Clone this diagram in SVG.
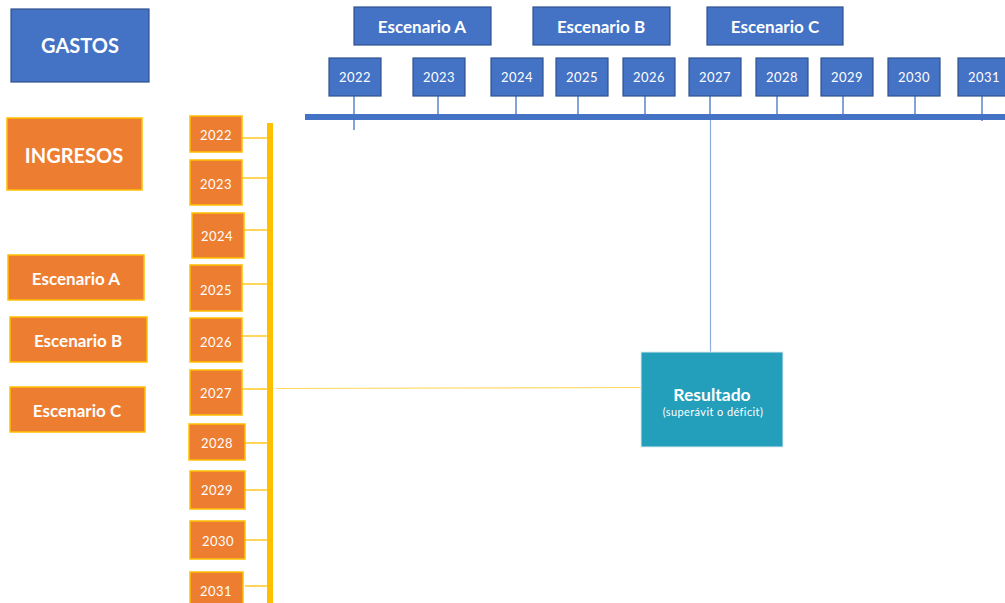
<svg xmlns="http://www.w3.org/2000/svg" width="1005" height="603" viewBox="0 0 1005 603">
<style>
.blue{fill:#4472C4;stroke:#2F528F;stroke-width:1.2}
.org{fill:#ED7D31;stroke:#FFC000;stroke-width:1.5}
.res{fill:#239EBB;stroke:#DDEBF0;stroke-width:1}
text{font-family:Lato,"Liberation Sans",sans-serif;fill:#fff;text-anchor:middle;dominant-baseline:central}
.big{font-size:20px;font-weight:bold}
.mid{font-size:17px;font-weight:bold}
.yr{font-size:13px;letter-spacing:0.5px}
.bt{stroke:#4472C4;stroke-width:1.3}
.yt{stroke:#FFC000;stroke-width:1.3}
</style>
<rect width="1005" height="603" fill="#fff"/>
<g id="connectors">
<rect x="305" y="114" width="700" height="6" fill="#4472C4"/>
<rect x="267" y="123" width="6" height="480" fill="#FFC000"/>
<line class="bt" x1="354" y1="96" x2="354" y2="130"/>
<line class="bt" x1="438" y1="96" x2="438" y2="114"/>
<line class="bt" x1="516" y1="96" x2="516" y2="114"/>
<line class="bt" x1="578" y1="96" x2="578" y2="114"/>
<line class="bt" x1="645" y1="96" x2="645" y2="114"/>
<line class="bt" x1="710" y1="96" x2="710" y2="114"/>
<line x1="710.5" y1="120" x2="710.5" y2="352" stroke="#8FAADC" stroke-width="1.2"/>
<line class="bt" x1="777" y1="96" x2="777" y2="114"/>
<line class="bt" x1="843" y1="96" x2="843" y2="114"/>
<line class="bt" x1="915" y1="96" x2="915" y2="114"/>
<line class="bt" x1="982" y1="96" x2="982" y2="121"/>
<line class="yt" x1="240" y1="138" x2="267" y2="138"/>
<line class="yt" x1="242" y1="178" x2="267" y2="178"/>
<line class="yt" x1="244" y1="230" x2="267" y2="230"/>
<line class="yt" x1="242" y1="284" x2="267" y2="284"/>
<line class="yt" x1="242" y1="336" x2="267" y2="336"/>
<line class="yt" x1="242" y1="389" x2="267" y2="389"/>
<line class="yt" x1="245" y1="443" x2="267" y2="443"/>
<line class="yt" x1="245" y1="490" x2="267" y2="490"/>
<line class="yt" x1="245" y1="540" x2="267" y2="540"/>
<line class="yt" x1="245" y1="586" x2="273" y2="586"/>
<line x1="276" y1="388.5" x2="641" y2="387.5" stroke="#FFD966" stroke-width="1.2"/>
</g>
<g id="gastos"><rect class="blue" x="11" y="9" width="138" height="73"/><text class="big" x="80" y="45">GASTOS</text></g>
<g id="escA-top"><rect class="blue" x="354" y="7" width="137" height="38"/><text class="mid" x="422" y="26">Escenario A</text></g>
<g id="escB-top"><rect class="blue" x="533" y="7" width="137" height="38"/><text class="mid" x="601" y="26">Escenario B</text></g>
<g id="escC-top"><rect class="blue" x="707" y="7" width="136" height="38"/><text class="mid" x="775" y="26">Escenario C</text></g>
<g id="g2022"><rect class="blue" x="329" y="58" width="52" height="38"/><text class="yr" x="355" y="77">2022</text></g>
<g id="g2023"><rect class="blue" x="413" y="58" width="52" height="38"/><text class="yr" x="439" y="77">2023</text></g>
<g id="g2024"><rect class="blue" x="491" y="58" width="52" height="38"/><text class="yr" x="517" y="77">2024</text></g>
<g id="g2025"><rect class="blue" x="556" y="58" width="52" height="38"/><text class="yr" x="582" y="77">2025</text></g>
<g id="g2026"><rect class="blue" x="623" y="58" width="52" height="38"/><text class="yr" x="649" y="77">2026</text></g>
<g id="g2027"><rect class="blue" x="689" y="58" width="52" height="38"/><text class="yr" x="715" y="77">2027</text></g>
<g id="g2028"><rect class="blue" x="756" y="58" width="52" height="38"/><text class="yr" x="782" y="77">2028</text></g>
<g id="g2029"><rect class="blue" x="821" y="58" width="52" height="38"/><text class="yr" x="847" y="77">2029</text></g>
<g id="g2030"><rect class="blue" x="888" y="58" width="52" height="38"/><text class="yr" x="914" y="77">2030</text></g>
<g id="g2031"><rect class="blue" x="958" y="58" width="52" height="38"/><text class="yr" x="984" y="77">2031</text></g>
<g id="ingresos"><rect class="org" x="7" y="118" width="135" height="72"/><text class="big" x="74" y="155">INGRESOS</text></g>
<g id="escA-left"><rect class="org" x="8" y="255" width="136" height="45"/><text class="mid" x="76" y="278">Escenario A</text></g>
<g id="escB-left"><rect class="org" x="10" y="317" width="137" height="45"/><text class="mid" x="78" y="340">Escenario B</text></g>
<g id="escC-left"><rect class="org" x="10" y="387" width="135" height="45"/><text class="mid" x="77" y="410">Escenario C</text></g>
<g id="i2022"><rect class="org" x="190" y="116" width="52" height="36"/><text class="yr" x="216" y="135">2022</text></g>
<g id="i2023"><rect class="org" x="190" y="160" width="52" height="45"/><text class="yr" x="216" y="184">2023</text></g>
<g id="i2024"><rect class="org" x="192" y="213" width="52" height="45"/><text class="yr" x="217" y="236">2024</text></g>
<g id="i2025"><rect class="org" x="190" y="265" width="52" height="46"/><text class="yr" x="216" y="290">2025</text></g>
<g id="i2026"><rect class="org" x="190" y="318" width="52" height="44"/><text class="yr" x="216" y="342">2026</text></g>
<g id="i2027"><rect class="org" x="190" y="370" width="52" height="45"/><text class="yr" x="216" y="393">2027</text></g>
<g id="i2028"><rect class="org" x="189" y="424" width="56" height="36"/><text class="yr" x="217" y="443">2028</text></g>
<g id="i2029"><rect class="org" x="190" y="471" width="55" height="38"/><text class="yr" x="217" y="490">2029</text></g>
<g id="i2030"><rect class="org" x="190" y="521" width="55" height="38"/><text class="yr" x="218" y="541">2030</text></g>
<g id="i2031"><rect class="org" x="190" y="572" width="53" height="36"/><text class="yr" x="216" y="591">2031</text></g>
<g id="resultado"><rect class="res" x="641" y="352" width="142" height="95"/><text x="712" y="394" style="font-size:17.5px;font-weight:bold">Resultado</text><text x="713" y="411" style="font-size:11px;letter-spacing:0.4px">(superávit o déficit)</text></g>
</svg>
